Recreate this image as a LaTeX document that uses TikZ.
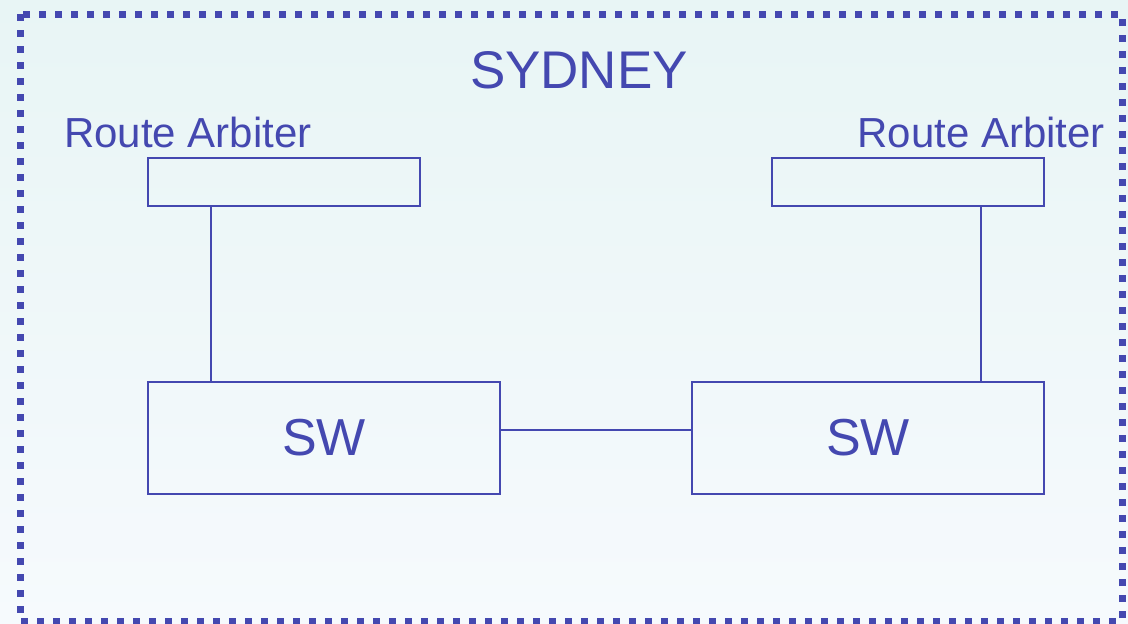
\documentclass[tikz,border=0pt]{standalone}
\usepackage{fontspec}
\setmainfont{Liberation Sans}
\usetikzlibrary{calc}
\definecolor{ink}{HTML}{4448B0}
\definecolor{bgtop}{HTML}{E8F5F5}
\definecolor{bgbot}{HTML}{F6FAFD}
\tikzset{
  box/.style={draw=ink, line width=2pt, rectangle, inner sep=0pt, fill=none},
  small/.style={box, minimum width=272pt, minimum height=48pt},
  big/.style={box, minimum width=352pt, minimum height=112pt, font=\fontsize{52}{60}\selectfont, text=ink},
  lbl/.style={text=ink, inner sep=0pt, font=\fontsize{42}{50}\selectfont},
  wire/.style={draw=ink, line width=1.6pt},
}
\begin{document}
\begin{tikzpicture}[x=1pt,y=-1pt]
\useasboundingbox (0,0) rectangle (1128,624);
\shade[top color=bgtop, bottom color=bgbot] (0,0) rectangle (1128,624);
\draw[ink, line width=7pt, dash pattern=on 7pt off 9pt] (20,14) rectangle (1122,621);
\node[lbl, font=\fontsize{53}{60}\selectfont, anchor=base] (title) at (579,88) {SYDNEY};
\node[lbl, anchor=base west] (lab1) at (64,147) {Route Arbiter};
\node[lbl, anchor=base east] (lab2) at (1105,147) {Route Arbiter};
\node[small] (ra1) at (284,182) {};
\node[small] (ra2) at (908,182) {};
\node[big] (sw1) at (324,438) {SW};
\node[big] (sw2) at (868,438) {SW};
\draw[wire] ([xshift=64pt]ra1.south west) -- ([xshift=64pt]sw1.north west);
\draw[wire] ([xshift=-64pt]ra2.south east) -- ([xshift=-64pt]sw2.north east);
\draw[wire] ([yshift=8pt]sw1.east) -- ([yshift=8pt]sw2.west);
\end{tikzpicture}
\end{document}
